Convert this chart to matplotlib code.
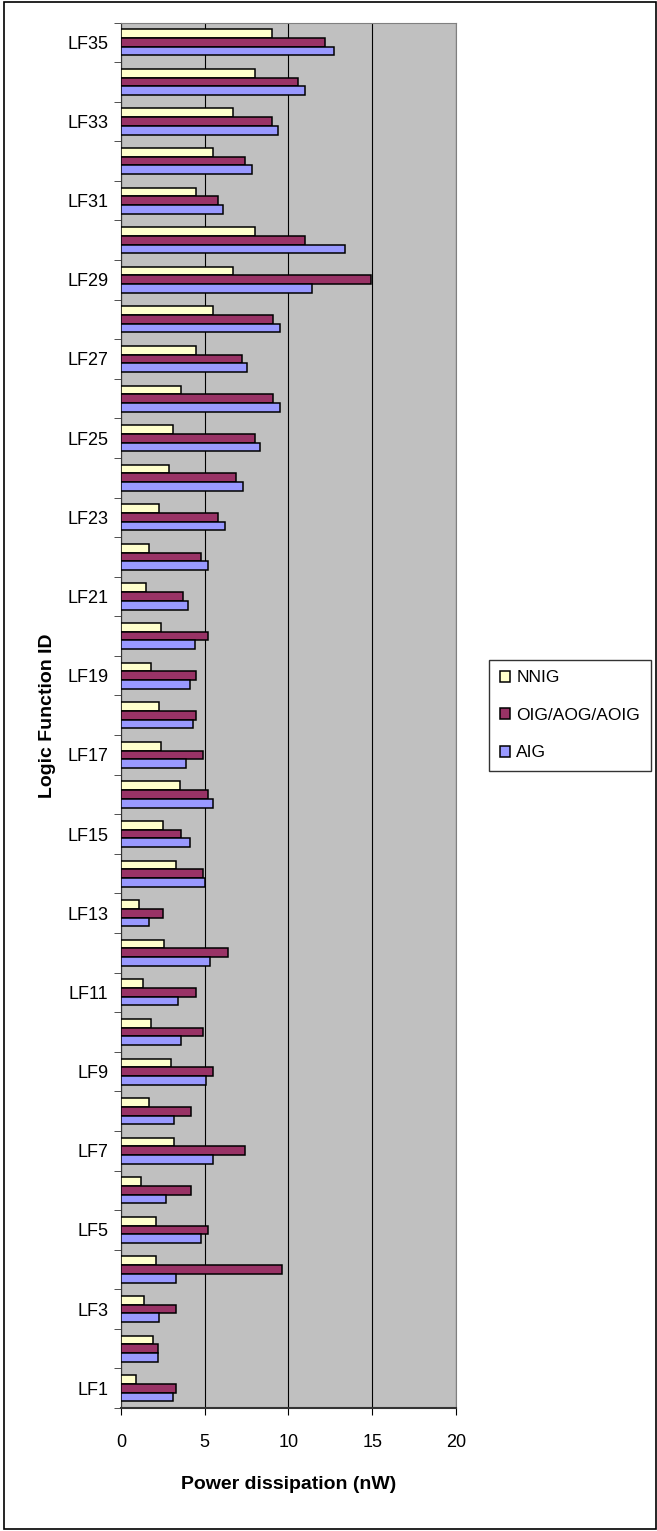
import numpy as np
import matplotlib.pyplot as plt
from matplotlib.patches import Rectangle

# values, LF1 .. LF35 (nW)
functions = ["LF%d" % i for i in range(1, 36)]
nnig = [0.9, 1.9, 1.4, 2.1, 2.1, 1.2, 3.2, 1.7, 3.0, 1.8,
        1.3, 2.6, 1.1, 3.3, 2.5, 3.5, 2.4, 2.3, 1.8, 2.4,
        1.5, 1.7, 2.3, 2.9, 3.1, 3.6, 4.5, 5.5, 6.7, 8.0,
        4.5, 5.5, 6.7, 8.0, 9.0]
oig = [3.3, 2.2, 3.3, 9.6, 5.2, 4.2, 7.4, 4.2, 5.5, 4.9,
       4.5, 6.4, 2.5, 4.9, 3.6, 5.2, 4.9, 4.5, 4.5, 5.2,
       3.7, 4.8, 5.8, 6.9, 8.0, 9.1, 7.2, 9.1, 14.9, 11.0,
       5.8, 7.4, 9.0, 10.6, 12.2]
aig = [3.1, 2.2, 2.3, 3.3, 4.8, 2.7, 5.5, 3.2, 5.1, 3.6,
       3.4, 5.3, 1.7, 5.0, 4.1, 5.5, 3.9, 4.3, 4.1, 4.4,
       4.0, 5.2, 6.2, 7.3, 8.3, 9.5, 7.5, 9.5, 11.4, 13.4,
       6.1, 7.8, 9.4, 11.0, 12.7]
series_names = ["NNIG", "OIG/AOG/AOIG", "AIG"]
series_colors = ["#FFFFCC", "#993366", "#9999FF"]

plt.rcParams['font.family'] = ['Liberation Sans', 'DejaVu Sans']

fig = plt.figure(figsize=(6.57, 15.31), dpi=100)
ax = fig.add_axes([0.184, 0.0803, 0.51, 0.905])
ax.set_facecolor("#C0C0C0")

y = np.arange(len(functions))
h = 0.22
# excel puts the last series at the bottom of each group
for k, (vals, name, col) in enumerate(zip([nnig, oig, aig], series_names, series_colors)):
    ax.barh(y + (1 - k) * h, vals, height=h, color=col, edgecolor="black",
            linewidth=1.1, label=name, zorder=3)

ax.set_xlim(0, 20)
ax.set_ylim(-0.5, len(functions) - 0.5)
ax.set_xticks([0, 5, 10, 15, 20])
ax.tick_params(axis="x", direction="out", length=5, labelsize=13, pad=14)
ax.xaxis.grid(True, color="black", linewidth=0.8, zorder=1)

# labels on every other category, tick marks between categories
ax.set_yticks(y[::2])
ax.set_yticklabels(functions[::2])
ax.set_yticks(np.arange(-0.5, len(functions)), minor=True)
ax.tick_params(axis="y", which="major", length=0, labelsize=13, pad=9)
ax.tick_params(axis="y", which="minor", direction="out", length=5, color="#333333")

for s in ["top", "right"]:
    ax.spines[s].set_color("#808080")
ax.spines["left"].set_color("#333333")
ax.spines["bottom"].set_color("#333333")
ax.spines["bottom"].set_linewidth(1.5)

ax.set_xlabel("Power dissipation (nW)", fontsize=14, fontweight="bold", labelpad=18)
ax.set_ylabel("Logic Function ID", fontsize=14, fontweight="bold", labelpad=8)

leg = ax.legend(loc="center left", bbox_to_anchor=(1.10, 0.5), fontsize=12.5,
                frameon=True, fancybox=False, edgecolor="black",
                handlelength=0.6, handleheight=0.6, handletextpad=0.35,
                labelspacing=1.3, borderpad=0.6, borderaxespad=0)
leg.get_frame().set_linewidth(1.0)

# outer chart border
fig.patches.append(Rectangle((0.006, 0.001), 0.992, 0.998, transform=fig.transFigure,
                             fill=False, edgecolor="black", linewidth=1.2))

fig.savefig("out.png", dpi=100)
